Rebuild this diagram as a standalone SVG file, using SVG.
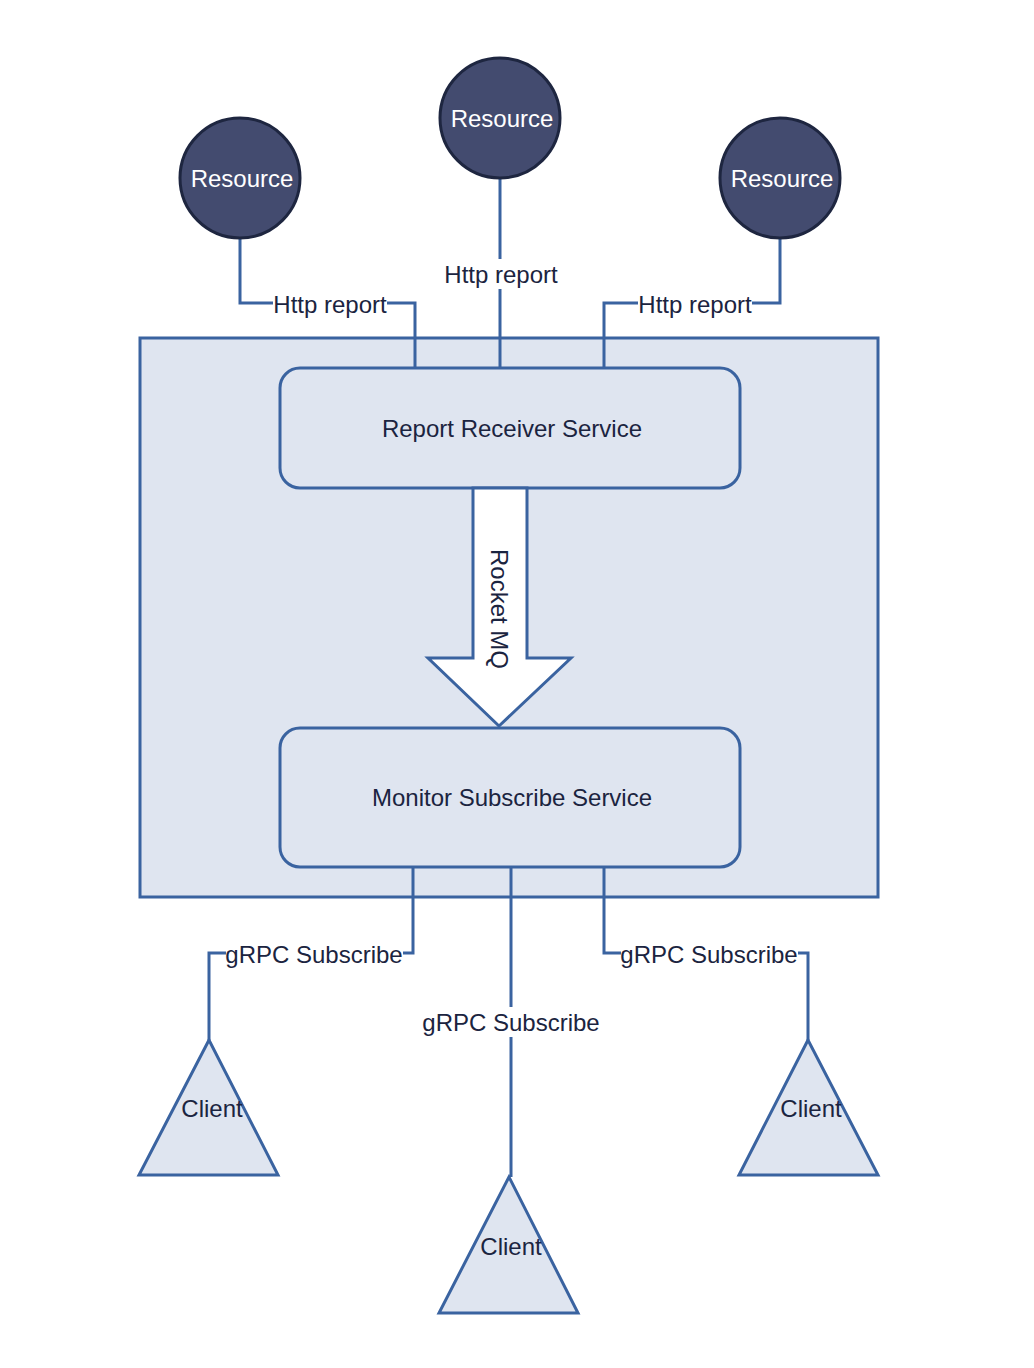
<svg xmlns="http://www.w3.org/2000/svg" width="1034" height="1368" viewBox="0 0 1034 1368">
<style>
text{font-family:"Liberation Sans",Arial,sans-serif;font-size:24px;fill:#1b2440;text-anchor:middle;dominant-baseline:central}
.res circle{fill:#434b6f;stroke:#1e2640;stroke-width:3}
.res text{fill:#ffffff}
.box{fill:#dfe5f0;stroke:#3a63a0;stroke-width:3}
.edge{fill:none;stroke:#3a63a0;stroke-width:3}
.lbl{fill:#ffffff}
</style>
<rect width="1034" height="1368" fill="#ffffff"/>
<g id="container"><rect class="box" x="140" y="338" width="738" height="559"/></g>
<g id="connectors">
<path class="edge" d="M240 238V303H415V368"/>
<path class="edge" d="M500 178V368"/>
<path class="edge" d="M780 238V303H604V368"/>
<path class="edge" d="M413 867V953H209V1040"/>
<path class="edge" d="M511 867V1177"/>
<path class="edge" d="M604 867V953H808V1040"/>
<rect class="lbl" x="273" y="289" width="114" height="30"/>
<text x="330" y="304">Http report</text>
<rect class="lbl" x="444" y="259" width="114" height="30"/>
<text x="501" y="274">Http report</text>
<rect class="lbl" x="638" y="289" width="114" height="30"/>
<text x="695" y="304">Http report</text>
<rect class="lbl" x="226" y="939" width="177" height="30"/>
<text x="314" y="954">gRPC Subscribe</text>
<rect class="lbl" x="423" y="1007" width="177" height="30"/>
<text x="511" y="1022">gRPC Subscribe</text>
<rect class="lbl" x="621" y="939" width="177" height="30"/>
<text x="709" y="954">gRPC Subscribe</text>
</g>
<g id="res1" class="res"><circle cx="240" cy="178" r="60"/><text x="242" y="178">Resource</text></g>
<g id="res2" class="res"><circle cx="500" cy="118" r="60"/><text x="502" y="118">Resource</text></g>
<g id="res3" class="res"><circle cx="780" cy="178" r="60"/><text x="782" y="178">Resource</text></g>
<g id="report"><rect class="box" x="280" y="368" width="460" height="120" rx="20"/><text x="512" y="428">Report Receiver Service</text></g>
<g id="mq"><path d="M473 488V658H428L499 726L571 658H527V488Z" fill="#ffffff" stroke="#3a63a0" stroke-width="3" stroke-linejoin="miter"/><text transform="translate(499 609) rotate(90)">Rocket MQ</text></g>
<g id="monitor"><rect class="box" x="280" y="728" width="460" height="139" rx="20"/><text x="512" y="797">Monitor Subscribe Service</text></g>
<g id="client1"><path class="box" d="M209 1040L139 1175H278Z"/><text x="212" y="1108">Client</text></g>
<g id="client2"><path class="box" d="M509 1177L439 1313H578Z"/><text x="511" y="1246">Client</text></g>
<g id="client3"><path class="box" d="M808 1040L739 1175H878Z"/><text x="811" y="1108">Client</text></g>
</svg>
